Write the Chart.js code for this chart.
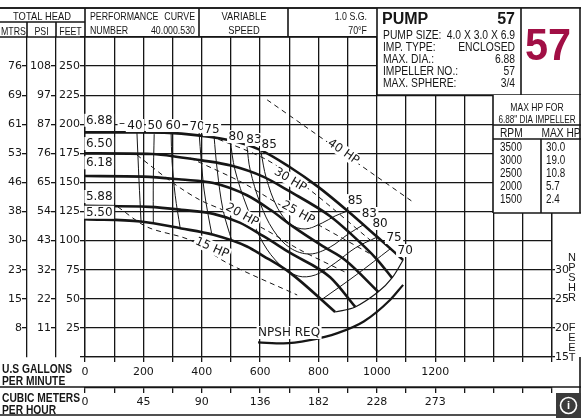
<!DOCTYPE html>
<html lang="en">
<head>
<meta charset="UTF-8">
<title>Pump 57 performance curve</title>
<script src="https://cdn.jsdelivr.net/npm/chart.js"></script>
<style>
  html, body { margin: 0; padding: 0; background: #fff; }
  canvas { display: block; }
</style>
</head>
<body>
<canvas id="pumpChart" width="581" height="418"></canvas>
<script>
// ---- values (x = US gpm, y = total head in feet) ----
const dia688 = [[0,193],[190,193],[330,192],[500,186],[600,178],[700,163.5],[800,146],[900,125.5],[1000,103.5],[1090,83.4]];
const dia650 = [[0,175],[230,174.5],[330,171.5],[400,169],[500,164.5],[610,155],[700,142.5],[840,121],[910,106],[1000,84],[1052,68]];
const dia618 = [[0,155.5],[200,155],[330,152.5],[440,149.5],[555,139],[635,126.5],[713,112],[816,95],[891,83.4],[1005,56]];
const dia588 = [[0,130],[220,129],[330,126.5],[440,123],[530,115.5],[610,104],[703,89.4],[840,68.5],[926,43]];
const dia550 = [[0,118.5],[190,116.5],[330,110.5],[440,105],[555,95],[610,87],[703,72.3],[857,38.7]];

// efficiency contours
const eff40 = [[178,192.5],[185,152],[192,116.5]];
const eff50 = [[237,191.5],[234,152],[234,115.5]];
const eff60 = [[295,192.5],[298,169],[309,139],[326,111]];
const eff70 = [[391,192.5],[398,169.3],[408,143.5],[422,122],[435,104.8]];
const eff75 = [[442,190],[453,160.7],[473,126.3],[504,99]];
const eff80 = [[497,186.5],[514,160.7],[555,128.9],[610,98],[669,79],[730,69.6],[789,70.5],[857,80.8],[926,93.7],[1001,103.1]];
const eff83 = [[555,180.5],[566,160.7],[600,132.3],[645,109.1],[703,93.7],[771,88.5],[840,94.5],[902,105.7],[953,113.5]];
const eff85 = [[603,176.2],[621,153.8],[658,128.9],[703,114.3],[754,110],[813,115.2],[857,121.2],[900,125.5]];
const eff75r = [[1046,93],[929,70.5],[809,49]];
const eff70r = [[1090,83.4],[1052,68],[1005,56],[926,43],[857,38.7]];

// horsepower lines
const hp40 = [[624,221],[1125,133]];
const hp30 = [[429,190],[624,169.3],[771,143.5],[977,100.5]];
const hp25 = [[360,171],[542,149.5],[669,130.6],[806,112.6],[984,87.7]];
const hp20 = [[178,173.6],[302,149.5],[394,134.9],[473,126.3],[607,110.9],[737,92],[891,73]];
const hp15 = [[113,128.9],[213,111.7],[360,100.5],[487,80.8],[727,53.3]];

// NPSH required, feet (right axis)
const npshReq = [[593,17.5],[680,17.35],[770,17.9],[865,19.1],[955,21.1],[1045,24.8],[1090,27.4]];

// axis labels
const feetTicks = [25,50,75,100,125,150,175,200,225,250];
const psiTicks  = [11,22,32,43,54,65,76,87,97,108];
const mtrsTicks = [8,15,23,30,38,46,53,61,69,76];
const gpmLabels = [0,200,400,600,800,1000,1200];
const m3hLabels = ['0','45','90','136','182','228','273'];
const npshTicks = [15,20,25,30];

const rpmList = ['3500','3000','2500','2000','1500'];
const maxHp   = ['30.0','19.0','10.8','5.7','2.4'];

// text on the plot, placed in data units
const diaLabels = [['6.88',3,203],['6.50',3,183],['6.18',3,166.5],['5.88',3,137.5],['5.50',3,124]];
const effLabels = [['\u2013',127,200],['40',171,198.5],['50',240,198.5],['60',302,198.5],['70',384,197.7],['75',435,195],
  ['80',518,189],['83',579,186.5],['85',631,182.2],
  ['85',926,134],['83',974,122.9],['80',1011,114.3],['75',1059,102.3],['70',1097,91.1]];
const hpLabels = [['40 HP',885,176.2,35],['30 HP',703,152.1,31],['25 HP',730,123.8,29],['20 HP',538,122,29],['15 HP',435,93.7,24]];

const INK = '#161616';
const NUM = '"DejaVu Sans", sans-serif';
const NARROW = '"Liberation Sans", Arial, sans-serif';

const pts = d => d.map(p => ({ x: p[0], y: p[1] }));
const heavy = d => ({ data: pts(d), borderColor: INK, borderWidth: 2.6, pointRadius: 0, cubicInterpolationMode: 'monotone' });
const thin = d => ({ data: pts(d), borderColor: INK, borderWidth: 1, pointRadius: 0, tension: 0.35 });
const dashed = d => ({ data: pts(d), borderColor: INK, borderWidth: 1, pointRadius: 0, tension: 0.3, borderDash: [5, 4] });

function putText(ctx, s, x, y, o) {
  o = o || {};
  ctx.save();
  ctx.font = o.font || '12px ' + NUM;
  ctx.textAlign = o.align || 'left';
  ctx.textBaseline = o.base || 'alphabetic';
  ctx.translate(x, y);
  if (o.rot) ctx.rotate(o.rot * Math.PI / 180);
  ctx.scale(o.sx || 1, 1);
  if (o.bg) {
    const w = ctx.measureText(s).width;
    const x0 = o.align === 'center' ? -w / 2 : o.align === 'right' ? -w : 0;
    ctx.fillStyle = '#fff';
    ctx.fillRect(x0 - 1.5, -7, w + 3, 13);
  }
  ctx.fillStyle = o.color || INK;
  ctx.fillText(s, 0, 0);
  ctx.restore();
}

function line(ctx, x1, y1, x2, y2, w) {
  ctx.save();
  ctx.strokeStyle = INK;
  ctx.lineWidth = w || 1.6;
  ctx.beginPath();
  ctx.moveTo(x1, y1);
  ctx.lineTo(x2, y2);
  ctx.stroke();
  ctx.restore();
}

const plotText = {
  id: 'plotText',
  afterDatasetsDraw(chart) {
    const { ctx, scales: { x, y } } = chart;
    diaLabels.forEach(l => putText(ctx, l[0], x.getPixelForValue(l[1]), y.getPixelForValue(l[2]), { base: 'middle', bg: true }));
    effLabels.forEach(l => putText(ctx, l[0], x.getPixelForValue(l[1]), y.getPixelForValue(l[2]), { base: 'middle', align: 'center', bg: true }));
    hpLabels.forEach(l => putText(ctx, l[0], x.getPixelForValue(l[1]), y.getPixelForValue(l[2]), { base: 'middle', align: 'center', bg: true, rot: l[3] }));
    putText(ctx, 'NPSH REQ', x.getPixelForValue(593), y.getPixelForValue(20.6), { base: 'middle', bg: true });
  }
};

const frame = {
  id: 'frame',
  afterDraw(chart) {
    const ctx = chart.ctx;
    // header strip
    line(ctx, 0, 8, 581, 8);
    line(ctx, 0, 37, 377, 37);
    line(ctx, 0, 22, 85, 22);
    line(ctx, 27, 22, 27, 37);
    line(ctx, 56, 22, 56, 37);
    [85, 199, 288].forEach(v => line(ctx, v, 8, v, 37));
    const hf = '11px ' + NARROW;
    putText(ctx, 'TOTAL HEAD', 42, 20, { font: hf, align: 'center', sx: 0.85 });
    putText(ctx, 'MTRS', 13.5, 35, { font: hf, align: 'center', sx: 0.8 });
    putText(ctx, 'PSI', 41.5, 35, { font: hf, align: 'center', sx: 0.8 });
    putText(ctx, 'FEET', 70.5, 35, { font: hf, align: 'center', sx: 0.8 });
    putText(ctx, 'PERFORMANCE', 90, 20, { font: hf, sx: 0.8 });
    putText(ctx, 'CURVE', 195, 20, { font: hf, align: 'right', sx: 0.8 });
    putText(ctx, 'NUMBER', 90, 34, { font: hf, sx: 0.8 });
    putText(ctx, '40.000.530', 195, 34, { font: hf, align: 'right', sx: 0.8 });
    putText(ctx, 'VARIABLE', 244, 20, { font: hf, align: 'center', sx: 0.85 });
    putText(ctx, 'SPEED', 244, 34, { font: hf, align: 'center', sx: 0.85 });
    putText(ctx, '1.0 S.G.', 367, 20, { font: hf, align: 'right', sx: 0.8 });
    putText(ctx, '70\u00B0F', 367, 34, { font: hf, align: 'right', sx: 0.8 });

    // pump box and big number
    ctx.fillStyle = '#fff';
    ctx.fillRect(377, 8, 204, 87);
    line(ctx, 0, 8, 581, 8);
    line(ctx, 377, 8, 377, 95);
    line(ctx, 521, 8, 521, 95);
    line(ctx, 377, 95, 581, 95);
    line(ctx, 580, 8, 580, 213);
    putText(ctx, 'PUMP', 382, 24, { font: 'bold 16px ' + NARROW });
    putText(ctx, '57', 515, 24, { font: 'bold 16px ' + NARROW, align: 'right' });
    const bf = '12px ' + NARROW;
    const rows = [['PUMP SIZE:', '4.0 X 3.0 X 6.9'], ['IMP. TYPE:', 'ENCLOSED'], ['MAX. DIA.:', '6.88'],
                  ['IMPELLER NO.:', '57'], ['MAX. SPHERE:', '3/4']];
    rows.forEach((r, i) => {
      putText(ctx, r[0], 383, 38.5 + i * 12.2, { font: bf, sx: 0.86 });
      putText(ctx, r[1], 515, 38.5 + i * 12.2, { font: bf, align: 'right', sx: 0.86 });
    });
    putText(ctx, '57', 548, 60, { font: 'bold 45px ' + NARROW, align: 'center', sx: 0.92, color: '#a10f45' });

    // max hp table
    ctx.fillStyle = '#fff';
    ctx.fillRect(493, 95, 88, 118);
    line(ctx, 493, 95, 493, 213);
    line(ctx, 493, 213, 581, 213);
    line(ctx, 493, 125, 581, 125);
    line(ctx, 493, 139, 581, 139);
    line(ctx, 541, 139, 541, 213);
    line(ctx, 580, 95, 580, 213);
    putText(ctx, 'MAX HP FOR', 537, 111, { font: '11px ' + NARROW, align: 'center', sx: 0.78 });
    putText(ctx, '6.88" DIA IMPELLER', 537, 123, { font: '11px ' + NARROW, align: 'center', sx: 0.74 });
    putText(ctx, 'RPM', 500, 137, { font: bf, sx: 0.85 });
    putText(ctx, 'MAX HP', 561, 137, { font: bf, align: 'center', sx: 0.85 });
    rpmList.forEach((r, i) => {
      putText(ctx, r, 500, 151 + i * 13, { font: bf, sx: 0.82 });
      putText(ctx, maxHp[i], 546, 151 + i * 13, { font: bf, sx: 0.82 });
    });

    // npshr caption on the right
    'NPSHR'.split('').forEach((c, i) => putText(ctx, c, 572, 261 + i * 10, { font: '11px ' + NARROW, align: 'center' }));
    'FEET'.split('').forEach((c, i) => putText(ctx, c, 572, 331 + i * 10, { font: '11px ' + NARROW, align: 'center' }));

    // bottom rows
    line(ctx, 0, 387, 581, 387);
    line(ctx, 0, 415, 581, 415);
    line(ctx, 580, 357, 580, 415);
    const lf = 'bold 12.5px ' + NARROW;
    putText(ctx, 'U.S GALLONS', 2, 373, { font: lf, sx: 0.82 });
    putText(ctx, 'PER MINUTE', 2, 385, { font: lf, sx: 0.82 });
    putText(ctx, 'CUBIC METERS', 2, 402, { font: lf, sx: 0.82 });
    putText(ctx, 'PER HOUR', 2, 413.5, { font: lf, sx: 0.82 });

    // viewer badge in the corner of the scan
    ctx.fillStyle = '#3b3b3b';
    ctx.fillRect(556, 393, 25, 25);
    ctx.strokeStyle = '#fff';
    ctx.lineWidth = 1.6;
    ctx.beginPath();
    ctx.arc(568.5, 405.5, 8, 0, Math.PI * 2);
    ctx.stroke();
    putText(ctx, 'i', 568.5, 406, { font: 'bold 11px ' + NARROW, align: 'center', base: 'middle', color: '#fff' });
  }
};

const gridBase = { color: INK, lineWidth: 1.3, tickLength: 5, tickColor: INK, tickWidth: 1.3 };
const tickFont = { family: 'DejaVu Sans', size: 11 };
const pickLabel = (list, v) => { const i = feetTicks.indexOf(v); return i < 0 ? '' : String(list[i]); };

new Chart(document.getElementById('pumpChart'), {
  type: 'line',
  data: {
    datasets: [
      heavy(dia688), heavy(dia650), heavy(dia618), heavy(dia588), heavy(dia550),
      thin(eff40), thin(eff50), thin(eff60), thin(eff70), thin(eff75), thin(eff80), thin(eff83), thin(eff85),
      thin(eff75r), Object.assign(thin(eff70r), { borderWidth: 1.2 }),
      dashed(hp40), dashed(hp30), dashed(hp25), dashed(hp20), dashed(hp15),
      Object.assign(heavy(npshReq), { yAxisID: 'npsh', borderWidth: 2.2 })
    ]
  },
  options: {
    responsive: false,
    animation: false,
    devicePixelRatio: 1,
    layout: { padding: { top: 37, left: 0, right: 0, bottom: 0 } },
    plugins: { legend: { display: false }, tooltip: { enabled: false }, title: { display: false } },
    scales: {
      x: {
        type: 'linear', position: 'bottom', weight: 0, min: 0, max: 1600,
        afterFit: s => { s.height = 31; },
        grid: gridBase,
        border: { display: true, color: INK, width: 1.3 },
        ticks: { stepSize: 100, autoSkip: false, maxRotation: 0, padding: 4, color: INK, font: tickFont,
                 callback: v => gpmLabels.includes(v) ? String(v) : '' }
      },
      m3h: {
        type: 'linear', position: 'bottom', weight: 1, min: 0, max: 1600,
        afterFit: s => { s.height = 30; },
        grid: Object.assign({}, gridBase, { drawOnChartArea: false }),
        border: { display: true, color: INK, width: 1.3 },
        ticks: { stepSize: 100, autoSkip: false, maxRotation: 0, padding: 3, color: INK, font: tickFont,
                 callback: v => { const i = gpmLabels.indexOf(v); return i < 0 ? '' : m3hLabels[i]; } }
      },
      y: {
        type: 'linear', position: 'left', weight: 0, min: 0, max: 275,
        afterFit: s => { s.width = 29; },
        grid: gridBase,
        border: { display: true, color: INK, width: 1.3 },
        ticks: { stepSize: 25, autoSkip: false, padding: 0, color: INK, font: tickFont,
                 callback: v => feetTicks.includes(v) ? String(v) : '' }
      },
      psi: {
        type: 'linear', position: 'left', weight: 1, min: 0, max: 275,
        afterFit: s => { s.width = 29; },
        afterBuildTicks: s => { s.ticks = feetTicks.map(v => ({ value: v })); },
        grid: Object.assign({}, gridBase, { drawOnChartArea: false }),
        border: { display: true, color: INK, width: 1.3 },
        ticks: { padding: 0, color: INK, font: tickFont, callback: v => pickLabel(psiTicks, v) }
      },
      mtrs: {
        type: 'linear', position: 'left', weight: 2, min: 0, max: 275,
        afterFit: s => { s.width = 27; },
        afterBuildTicks: s => { s.ticks = feetTicks.map(v => ({ value: v })); },
        grid: Object.assign({}, gridBase, { drawOnChartArea: false }),
        border: { display: true, color: INK, width: 1.3 },
        ticks: { padding: 0, color: INK, font: tickFont, callback: v => pickLabel(mtrsTicks, v) }
      },
      npsh: {
        type: 'linear', position: 'right', min: 15, max: 70,
        afterFit: s => { s.width = 29; },
        afterBuildTicks: s => { s.ticks = npshTicks.map(v => ({ value: v })); },
        grid: Object.assign({}, gridBase, { drawOnChartArea: false, tickLength: 3 }),
        border: { display: true, color: INK, width: 1.3 },
        ticks: { padding: 0, color: INK, font: tickFont, callback: v => String(v) }
      }
    }
  },
  plugins: [plotText, frame]
});
</script>
</body>
</html>
